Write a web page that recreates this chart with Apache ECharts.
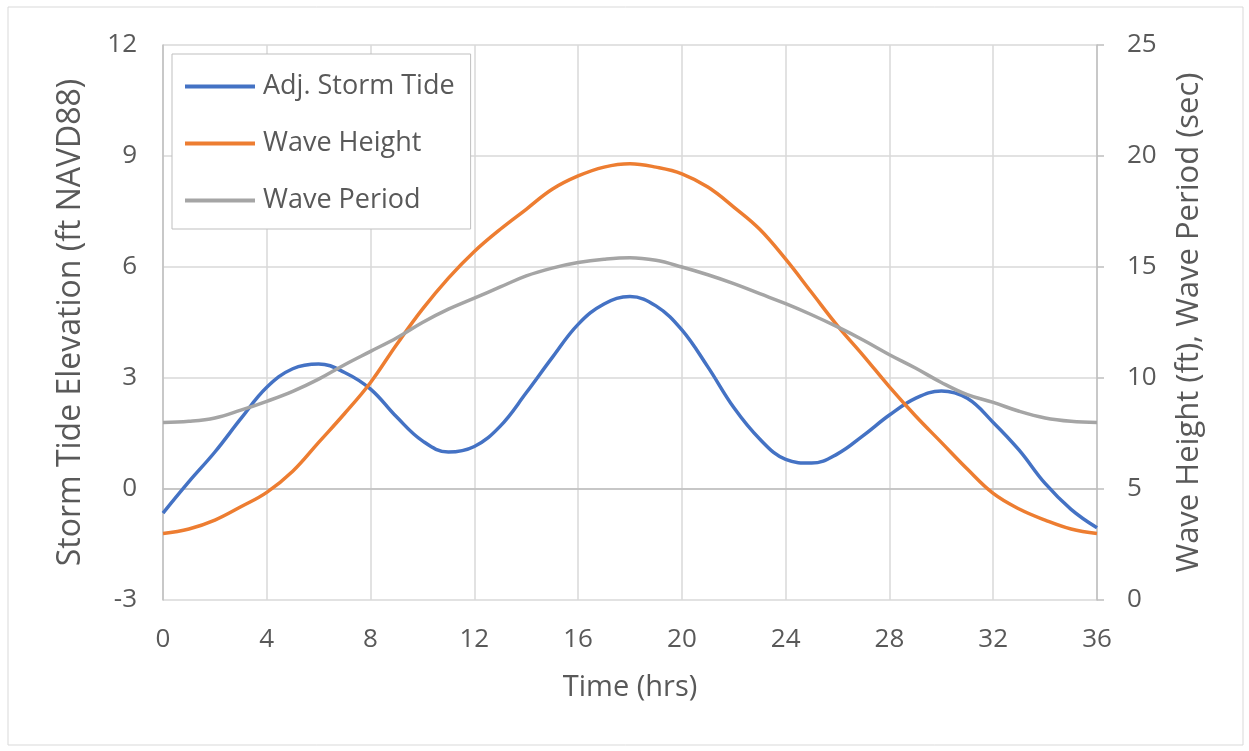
<!DOCTYPE html>
<html>
<head>
<meta charset="utf-8">
<script src="https://cdn.jsdelivr.net/npm/echarts@6/dist/echarts.min.js"></script>
<style>
  html, body { margin: 0; padding: 0; background: #fff; }
  #main { width: 1249px; height: 751px; }
</style>
</head>
<body>
<div id="main"></div>
<script>
var chartDom = document.getElementById('main');
var myChart = echarts.init(chartDom);
var option;

// time in hours
const hours = [
  0, 1, 2, 3, 4, 5, 6, 7, 8, 9, 10, 11, 12, 13, 14, 15, 16, 17, 18,
  19, 20, 21, 22, 23, 24, 25, 26, 27, 28, 29, 30, 31, 32, 33, 34, 35, 36
];
// ft NAVD88 (left axis)
const stormTide = [
  -0.65, 0.2, 1.0, 1.9, 2.75, 3.25, 3.38, 3.15, 2.7, 1.95, 1.3, 1.0, 1.15,
  1.7, 2.6, 3.55, 4.45, 5.0, 5.2, 4.95, 4.3, 3.3, 2.2, 1.35, 0.8, 0.7, 0.95,
  1.45, 2.0, 2.45, 2.65, 2.45, 1.8, 1.05, 0.15, -0.55, -1.05
];
// ft (right axis)
const waveHeight = [
  3.0, 3.2, 3.6, 4.2, 4.85, 5.8, 7.1, 8.4, 9.8, 11.5, 13.1, 14.5, 15.7,
  16.7, 17.6, 18.5, 19.1, 19.5, 19.65, 19.5, 19.2, 18.6, 17.7, 16.7, 15.35,
  13.85, 12.35, 11.0, 9.6, 8.3, 7.1, 5.9, 4.8, 4.1, 3.6, 3.2, 3.0
];
// sec (right axis)
const wavePeriod = [
  8.0, 8.05, 8.2, 8.55, 8.95, 9.4, 9.95, 10.6, 11.2, 11.8, 12.5, 13.1, 13.6,
  14.1, 14.6, 14.95, 15.2, 15.35, 15.42, 15.3, 15.0, 14.65, 14.25, 13.8,
  13.35, 12.85, 12.3, 11.7, 11.05, 10.45, 9.8, 9.25, 8.9, 8.5, 8.2, 8.05, 8.0
];

const seriesNames = ['Adj. Storm Tide', 'Wave Height', 'Wave Period'];
const colors = ['#4472C4', '#ED7D31', '#A5A5A5'];

function pairs(ys) {
  return hours.map(function (h, i) { return [h, ys[i]]; });
}

const font = '"Open Sans", sans-serif';
const textColor = '#595959';

option = {
  color: colors,
  textStyle: { fontFamily: font, color: textColor },
  graphic: [
    {
      type: 'rect',
      shape: { x: 8, y: 7, width: 1235, height: 738 },
      style: { fill: 'none', stroke: '#d9d9d9', lineWidth: 1 },
      silent: true
    }
  ],
  grid: {
    left: 163,
    right: 152,
    top: 45,
    bottom: 151
  },
  legend: {
    orient: 'vertical',
    left: 172,
    top: 54,
    padding: [19, 16, 15, 13],
    icon: 'rect',
    itemWidth: 70,
    itemHeight: 4,
    itemGap: 30,
    backgroundColor: '#fff',
    borderColor: '#bfbfbf',
    borderWidth: 1,
    textStyle: {
      fontFamily: font,
      fontSize: 27,
      color: textColor,
      lineHeight: 22,
      padding: [0, 0, 0, 3]
    },
    data: seriesNames
  },
  xAxis: {
    type: 'value',
    min: 0,
    max: 36,
    interval: 4,
    name: 'Time (hrs)',
    nameLocation: 'middle',
    nameGap: 73,
    nameTextStyle: { fontSize: 29, color: textColor },
    axisLine: { show: true, lineStyle: { color: '#bfbfbf', width: 1.5 } },
    axisTick: { show: false },
    axisLabel: { fontSize: 26, color: textColor, margin: 27 },
    splitLine: { show: true, lineStyle: { color: '#d9d9d9', width: 1.5 } }
  },
  yAxis: [
    {
      type: 'value',
      min: -3,
      max: 12,
      interval: 3,
      name: 'Storm Tide Elevation (ft NAVD88)',
      nameLocation: 'middle',
      nameRotate: 90,
      nameGap: 76,
      nameTextStyle: { fontSize: 32, color: textColor },
      axisLine: { show: true, onZero: false, lineStyle: { color: '#bfbfbf', width: 1.5 } },
      axisTick: { show: false },
      axisLabel: { fontSize: 26, color: textColor, margin: 26 },
      splitLine: { show: true, lineStyle: { color: '#d9d9d9', width: 1.5 } }
    },
    {
      type: 'value',
      min: 0,
      max: 25,
      interval: 5,
      position: 'right',
      name: 'Wave Height (ft), Wave Period (sec)',
      nameLocation: 'middle',
      nameRotate: 90,
      nameGap: 77,
      nameTextStyle: { fontSize: 31, color: textColor },
      axisLine: { show: true, onZero: false, lineStyle: { color: '#bfbfbf', width: 1.5 } },
      axisTick: { show: true, length: 7, lineStyle: { color: '#bfbfbf', width: 1.5 } },
      axisLabel: { fontSize: 26, color: textColor, margin: 30 },
      splitLine: { show: false }
    }
  ],
  series: [
    {
      name: seriesNames[0],
      type: 'line',
      yAxisIndex: 0,
      smooth: 0.4,
      symbol: 'none',
      lineStyle: { width: 3.5 },
      data: pairs(stormTide)
    },
    {
      name: seriesNames[1],
      type: 'line',
      yAxisIndex: 1,
      smooth: 0.4,
      symbol: 'none',
      lineStyle: { width: 3.5 },
      data: pairs(waveHeight)
    },
    {
      name: seriesNames[2],
      type: 'line',
      yAxisIndex: 1,
      smooth: 0.4,
      symbol: 'none',
      lineStyle: { width: 3.5 },
      data: pairs(wavePeriod)
    }
  ]
};

option && myChart.setOption(option);
</script>
</body>
</html>
